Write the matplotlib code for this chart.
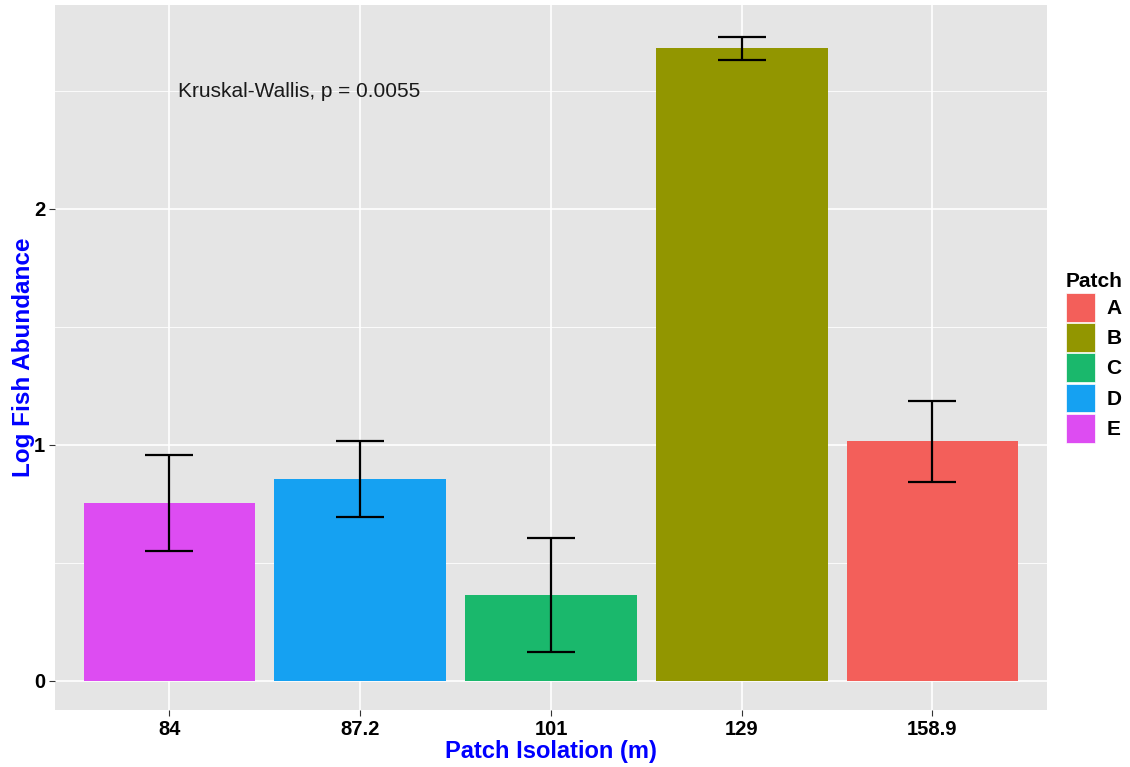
import matplotlib
matplotlib.use("Agg")
import matplotlib.pyplot as plt
from matplotlib.patches import Patch
import numpy as np

# data
isolation = ["84", "87.2", "101", "129", "158.9"]
patch = ["E", "D", "C", "B", "A"]
mean_log = [0.754, 0.856, 0.364, 2.682, 1.017]
err_low = [0.551, 0.695, 0.123, 2.631, 0.843]
err_high = [0.958, 1.017, 0.606, 2.729, 1.186]

patch_order = ["A", "B", "C", "D", "E"]
patch_colors = {"A": "#F35F5A", "B": "#929600", "C": "#1AB86C",
                "D": "#15A1F2", "E": "#DD4CF2"}

plt.rcParams["font.family"] = ["Liberation Sans", "DejaVu Sans"]

fig = plt.figure(figsize=(11.3, 7.67), dpi=100)
ax = fig.add_axes([0.0487, 0.0743, 0.8778, 0.9192])
ax.set_facecolor("#E5E5E5")

x = np.arange(1, len(isolation) + 1)
ax.bar(x, mean_log, width=0.9, color=[patch_colors[p] for p in patch],
       zorder=2)
low = np.array(mean_log) - np.array(err_low)
high = np.array(err_high) - np.array(mean_log)
ax.errorbar(x, mean_log, yerr=[low, high], fmt="none", ecolor="black",
            elinewidth=1.6, capsize=17.3, capthick=1.6, zorder=3)

ax.set_xlim(0.4, 5.6)
ax.set_ylim(-0.123, 2.864)
ax.set_xticks(x)
ax.set_xticklabels(isolation)
ax.set_yticks([0, 1, 2])
ax.set_yticks([0.5, 1.5, 2.5], minor=True)
ax.grid(which="major", color="white", linewidth=1.2, zorder=0)
ax.grid(which="minor", axis="y", color="white", linewidth=0.6, zorder=0)
ax.set_axisbelow(True)
for s in ax.spines.values():
    s.set_visible(False)
ax.tick_params(axis="both", which="major", length=4, width=0.8,
               color="#333333", labelsize=14.5, pad=3)
ax.tick_params(axis="both", which="minor", length=0)
for lab in ax.get_xticklabels() + ax.get_yticklabels():
    lab.set_fontweight("bold")
    lab.set_color("black")

ax.set_xlabel("Patch Isolation (m)", fontsize=17, fontweight="bold",
              color="blue", labelpad=1)
ax.set_ylabel("Log Fish Abundance", fontsize=17.5, fontweight="bold",
              color="blue", labelpad=-1)

ax.text(1.047, 2.496, "Kruskal-Wallis, p = 0.0055", fontsize=15,
        color="#1a1a1a", ha="left", va="center")

handles = [Patch(facecolor=patch_colors[p], edgecolor="white", linewidth=0.5)
           for p in patch_order]
leg = ax.legend(handles, patch_order, title="Patch", loc="center left",
                bbox_to_anchor=(1.0, 0.5), frameon=False, fontsize=15,
                title_fontsize=15, handlelength=1.4, handleheight=1.75,
                labelspacing=0.07, handletextpad=0.55, borderaxespad=0.5)
leg.get_title().set_fontweight("bold")
leg._legend_box.align = "left"
for t in leg.get_texts():
    t.set_fontweight("bold")

fig.savefig("out.png", dpi=100)
